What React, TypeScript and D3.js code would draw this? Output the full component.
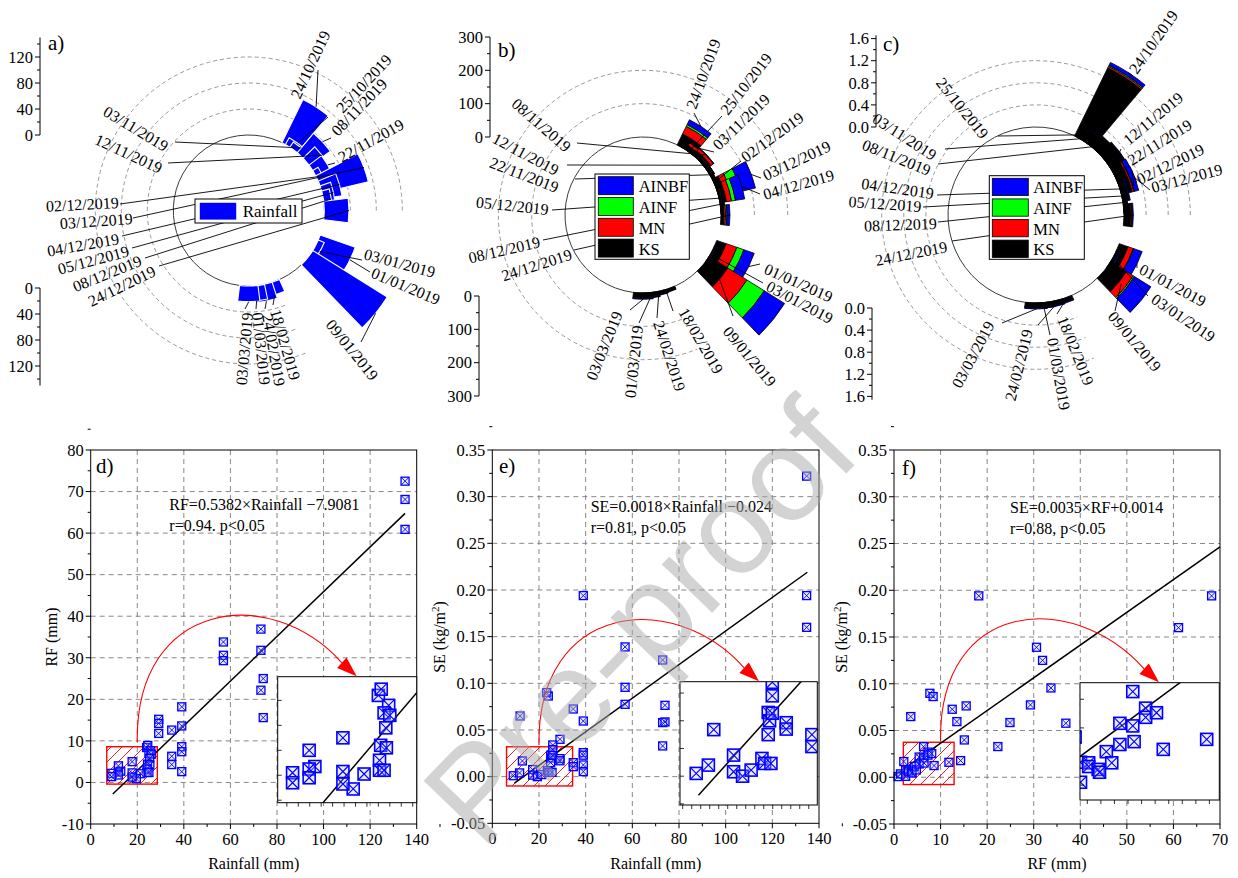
import React from "react";
import * as d3 from "d3";

const SERIF = "'Liberation Serif', 'Times New Roman', Times, serif";
const SANS = "'Liberation Sans', Arial, Helvetica, sans-serif";

// ---------------- erosion events ----------------
const EVENT_DATES = [
  "24/10/2019", "25/10/2019", "03/11/2019", "08/11/2019", "12/11/2019", "22/11/2019",
  "02/12/2019", "03/12/2019", "04/12/2019", "05/12/2019", "08/12/2019", "24/12/2019",
  "01/01/2019", "03/01/2019", "09/01/2019", "18/02/2019", "24/02/2019", "01/03/2019", "03/03/2019",
];

// position of each event on the circular calendar (deg, counter-clockwise from east)
const EVENT_ANGLE_STOPS = [57, 54, 50, 43, 37, 30, 25, 20.5, 16, 12, 8, 0, -26, -30, -39, -73, -79, -85, -90];

const RAINFALL_MM = [74, 12, 9.5, 39, 25, 24, 9.5, 73, 29, 17, 12, 38, 57, 10, 135, 20, 26, 23, 24];

// runoff (mm) per land use
const RF_KS = [37, 4, 15, 18, 10, 6, 6, 20, 20, 6, 5, 9, 30, 3, 66, 6, 8, 10, 12];
const RF_MN = [25, 2, 9, 9, 3, 1, 3, 18, 15, 3, 2, 5, 34, 2, 68, 1, 1, 2, 2];
const RF_AINF = [6, 1, 1, 1, 0.5, 0.5, 1, 30, 12, 2, 2, 4, 22, 2, 61, 1, 1, 2, 2];
const RF_AINBF = [16, 1, 2, 1, 0.5, 0.5, 1, 45, 28, 2, 2, 9, 33, 2, 72, 2, 2, 2, 3];

// soil erosion (kg/m2) per land use
const SE_KS = [1.37, 0.18, 0.22, 0.25, 0.28, 0.12, 0.2, 0.2, 0.1, 0.06, 0.05, 0.12, 0.17, 0.04, 0.34, 0.06, 0.07, 0.07, 0.08];
const SE_MN = [0.03, 0.01, 0.01, 0.01, 0.01, 0.005, 0.03, 0.03, 0.01, 0.005, 0.005, 0.02, 0.1, 0.01, 0.145, 0.005, 0.005, 0.005, 0.005];
const SE_AINF = [0.02, 0.005, 0.005, 0.005, 0.005, 0.005, 0.01, 0.01, 0.005, 0.005, 0.005, 0.01, 0.01, 0.01, 0.025, 0.005, 0.005, 0.005, 0.005];
const SE_AINBF = [0.06, 0.01, 0.01, 0.01, 0.01, 0.005, 0.08, 0.08, 0.02, 0.01, 0.01, 0.02, 0.16, 0.02, 0.35, 0.02, 0.02, 0.02, 0.02];

const LAND_USES = ["AINBF", "AINF", "MN", "KS"];
const LAND_USE_COLOR: Record<string, string> = { AINBF: "#0000ff", AINF: "#00ff00", MN: "#ff0000", KS: "#000000" };

// ---------------- scatter data ----------------
const RAIN_VS_RF: [number, number][] = [
  [135, 72.5], [135, 68.1], [135, 60.9],
  [73.1, 36.9], [73.1, 31.8], [74.1, 25.0], [73.1, 22.2], [74.1, 15.6],
  [57, 33.8], [57, 30.6], [57, 29.3],
  [39.1, 18.2], [39.1, 13.6], [39.1, 8.6], [39.1, 7.4], [39.1, 2.6],
  [34.8, 12.6], [34.8, 6.3], [34.8, 4.3],
  [29.2, 15.2], [29.2, 14.2], [29.2, 11.8],
  [24, 8.4], [24.5, 8.9], [25.8, 7.6], [25, 7.0], [26, 6.8], [25.3, 5.8], [24.4, 4.4], [25.4, 4.2],
  [24.2, 3.2], [24.2, 2.4], [25, 2.4], [21.5, 2.1], [19.6, 0.9], [17.8, 5.0], [17.8, 2.3], [17.8, 1.3],
  [12.9, 2.7], [11.9, 4.0], [11.9, 2.5], [11.9, 1.8], [9, 2.2], [9, 1.4],
];

const RAIN_VS_SE: [number, number][] = [
  [134.7, 0.322], [134.7, 0.194], [134.7, 0.16], [39, 0.194],
  [56.9, 0.139], [56.9, 0.0957], [56.9, 0.0775],
  [73, 0.125], [74, 0.0764], [73, 0.0579], [74, 0.0586], [73, 0.0329],
  [34.7, 0.0725], [39, 0.0596], [39, 0.0257], [39, 0.023], [39, 0.0125], [39, 0.0054], [34.7, 0.015], [34.7, 0.0107],
  [11.9, 0.065], [23.3, 0.09], [24, 0.0864], [29, 0.04], [25.9, 0.0339],
  [9, 0.001], [11.7, 0.004], [12.9, 0.0168], [17.3, 0.0076], [17.3, 0.0016], [19.3, 0], [21.2, 0.0022],
  [23.6, 0.0064], [24.2, 0.0046], [25.6, 0.0046], [25, 0.023], [25.3, 0.02], [25, 0.015],
  [25.9, 0.029], [25.9, 0.0227], [29, 0.0193], [29, 0.017],
];

const RF_VS_SE: [number, number][] = [
  [68.2, 0.194], [61.1, 0.16], [30.6, 0.139], [31.9, 0.125], [33.7, 0.0955], [29.3, 0.0774],
  [24.9, 0.0585], [36.9, 0.0578], [22.3, 0.0328], [18.2, 0.194], [15.5, 0.0763], [12.5, 0.0727],
  [13.5, 0.0595], [15.1, 0.0399], [14.3, 0.0178], [11.8, 0.016], [3.6, 0.0649], [7.7, 0.0898],
  [8.4, 0.0863], [8.6, 0.0125],
  [0.9, 0.0007], [1.4, 0.0036], [2.1, 0.0168], [2.5, 0.008], [2.5, 0.001], [3.1, 0.0078], [3.1, 0.0065],
  [3.8, 0.0055], [3.9, 0.0045], [4.4, 0.0117], [4.8, 0.0078], [5.4, 0.0216], [5.4, 0.0142],
  [6.35, 0.0327], [6.35, 0.0207], [6.45, 0.0152], [7.3, 0.0269], [7.3, 0.0237], [8.1, 0.0253],
];

// ---------------- helpers ----------------
const angleOf = d3.scaleLinear().domain(d3.range(EVENT_DATES.length)).range(EVENT_ANGLE_STOPS);
const arcGen = d3.arc<any>();
const BAR_HALF_DEG = 7;

function wedgePath(rIn: number, rOut: number, deg: number) {
  return arcGen({
    innerRadius: rIn,
    outerRadius: rOut,
    startAngle: ((90 - deg - BAR_HALF_DEG) * Math.PI) / 180,
    endAngle: ((90 - deg + BAR_HALF_DEG) * Math.PI) / 180,
  }) as string;
}

function ringPath(r: number, spanDeg: number) {
  const p = d3.path();
  p.arc(0, 0, r, 0, (-spanDeg * Math.PI) / 180, true);
  return p.toString();
}

function stepTicks(lo: number, hi: number, step: number) {
  const n = Math.round((hi - lo) / step);
  return d3.range(n + 1).map((i) => +(lo + i * step).toFixed(6));
}

// label layout: [x, y, rotation, anchor, leaderX, leaderY, leaderTargetValue?]
type Spot = [number, number, number, "s" | "e", number, number, number?];

const LABELS_A: Spot[] = [
  [300, 100, -65, "s", 318, 70], [343, 114, -47, "s", 328, 117], [164, 152, 31, "e", 175, 142],
  [338, 137, -46, "s", 331, 138], [159, 174, 25, "e", 168, 163], [342, 163, -29, "s", 335, 163],
  [119, 208, -3, "e", 120, 204], [133, 224, -4, "e", 133, 218], [120, 244, -10, "e", 122, 236],
  [130, 256, -15, "e", 132, 248], [143, 265, -22, "e", 145, 258], [157, 275, -26, "e", 159, 266],
  [370, 277, 23, "s", 370, 272], [363, 259, 15, "s", 362, 260], [325, 325, 51, "s", 361, 342],
  [270, 311, 74, "s", 273, 305], [262, 315, 80, "s", 265, 309], [252, 313, 84, "s", 256, 309],
  [253, 313, -85, "e", 245, 309],
];

const LABELS_B: Spot[] = [
  [696, 110, -70, "s", 694, 113], [728, 116, -52, "s", 722, 116], [719, 151, -44, "s", 714, 152],
  [565, 153, 41, "e", 577, 143], [555, 176, 28, "e", 567, 165], [556, 193, 21, "e", 575, 179],
  [746, 163, -36, "s", 741, 161], [766, 181, -25, "s", 761, 178], [765, 200, -16, "s", 760, 194],
  [548, 215, 6, "e", 552, 210], [541, 247, -13, "e", 543, 240], [573, 259, -18, "e", 574, 250],
  [763, 273, 24, "s", 760, 264], [765, 290, 28, "s", 763, 283], [722, 332, 50, "s", 733, 316, 57],
  [678, 312, 60, "s", 673, 311], [653, 323, 72, "s", 657, 318], [643, 326, -84, "e", 639, 323],
  [623, 314, -68, "e", 630, 310],
];

const LABELS_C: Spot[] = [
  [1137, 75, -55, "s", 1133, 76], [981, 140, 51, "e", 998, 136], [932, 161, 33, "e", 945, 149],
  [928, 176, 22, "e", 938, 164], [1129, 146, -40, "s", 1121, 149], [1132, 166, -32, "s", 1125, 168],
  [1140, 185, -26, "s", 1134, 186], [1153, 193, -15, "s", 1150, 190], [933, 199, 8, "e", 937, 195],
  [921, 212, 4, "e", 923, 207], [937, 229, -2, "e", 938, 222], [948, 252, -11, "e", 952, 241],
  [1138, 273, 28, "s", 1137, 268], [1150, 302, 34, "s", 1148, 296], [1107, 317, 50, "s", 1115, 311, 0.39],
  [1057, 319, 68, "s", 1057, 314], [1033, 331, -76, "e", 1038, 325], [1047, 339, 80, "s", 1050, 335],
  [995, 325, -62, "e", 1002, 323],
];

type Layer = { name: string; values: number[]; color: string };

type PolarCfg = {
  cx: number; cy: number; r0: number; k: number; lineMax: number;
  majors: number[]; minors: number[]; fmt: (v: number) => string;
  topX: number; botX: number; botOff: number; rings: number[];
};

type LegendCfg = {
  x: number; y: number; w: number; h: number; rx: number; rw: number; rh: number;
  ry0: number; rdy: number; tx: number; tdy: number; font: number; rectStroke: string;
};

function PolarPanel({ cfg, layers, barStroke, barStrokeWidth, labels, legend, legendItems, tag, tagPos }: {
  cfg: PolarCfg; layers: Layer[]; barStroke: string; barStrokeWidth: number; labels: Spot[];
  legend: LegendCfg; legendItems: { name: string; color: string }[]; tag: string; tagPos: [number, number];
}) {
  const { cx, cy, r0, k, lineMax, majors, minors, fmt, topX, botX, botOff, rings } = cfg;
  const r = d3.scaleLinear().domain([0, lineMax]).range([r0, r0 + lineMax * k]);
  const n = EVENT_DATES.length;
  const totals = d3.range(n).map((i) => d3.sum(layers, (l) => l.values[i]));
  const at = (rad: number, deg: number): [number, number] => [
    cx + rad * Math.cos((deg * Math.PI) / 180),
    cy - rad * Math.sin((deg * Math.PI) / 180),
  ];

  return (
    <g>
      <g transform={`translate(${cx},${cy})`}>
        {rings.map((v) => (
          <path key={v} d={ringPath(r(v), 292)} fill="none" stroke="#8c8c8c" strokeWidth={0.9} strokeDasharray="4 3" />
        ))}
        <path d={ringPath(r0, 315)} fill="none" stroke="#3a3a3a" strokeWidth={1} />
        {d3.range(n).map((i) => {
          let acc = 0;
          return (
            <g key={i}>
              {layers.map((l) => {
                const a = acc;
                acc += l.values[i];
                return (
                  <path key={l.name} d={wedgePath(r(a), r(acc), angleOf(i))} fill={l.color}
                    stroke={barStroke} strokeWidth={barStrokeWidth} />
                );
              })}
            </g>
          );
        })}
      </g>

      {labels.map((s, i) => {
        const target = s[6] !== undefined ? (s[6] as number) : totals[i];
        const [px, py] = at(r(target), angleOf(i));
        return <line key={i} x1={s[4]} y1={s[5]} x2={px} y2={py} stroke="#000" strokeWidth={0.9} />;
      })}
      {labels.map((s, i) => (
        <text key={i} transform={`translate(${s[0]},${s[1]}) rotate(${s[2]})`} textAnchor={s[3] === "s" ? "start" : "end"}
          fontFamily={SERIF} fontSize={16} fill="#000">
          {EVENT_DATES[i]}
        </text>
      ))}

      <rect x={legend.x} y={legend.y} width={legend.w} height={legend.h} fill="#fff" stroke="#000" strokeWidth={1} />
      {legendItems.map((it, j) => (
        <g key={it.name}>
          <rect x={legend.rx} y={legend.ry0 + j * legend.rdy} width={legend.rw} height={legend.rh} fill={it.color}
            stroke={legend.rectStroke} strokeWidth={0.8} />
          <text x={legend.tx} y={legend.ry0 + j * legend.rdy + legend.tdy} fontFamily={SERIF} fontSize={legend.font}>
            {it.name}
          </text>
        </g>
      ))}

      {/* radial axes: upward copy and downward copy */}
      <line x1={topX} x2={topX} y1={cy - r(0)} y2={cy - r(lineMax)} stroke="#000" strokeWidth={1} />
      {majors.map((v) => (
        <g key={"t" + v}>
          <line x1={topX - 5} x2={topX} y1={cy - r(v)} y2={cy - r(v)} stroke="#000" />
          <text x={topX - 7} y={cy - r(v)} dy="0.35em" textAnchor="end" fontFamily={SERIF} fontSize={16.5}>{fmt(v)}</text>
        </g>
      ))}
      {minors.map((v) => (
        <line key={"tm" + v} x1={topX - 3} x2={topX} y1={cy - r(v)} y2={cy - r(v)} stroke="#000" />
      ))}
      <line x1={botX} x2={botX} y1={cy + r(0) + botOff} y2={cy + r(lineMax) + botOff} stroke="#000" strokeWidth={1} />
      {majors.map((v) => (
        <g key={"b" + v}>
          <line x1={botX - 5} x2={botX} y1={cy + r(v) + botOff} y2={cy + r(v) + botOff} stroke="#000" />
          <text x={botX - 7} y={cy + r(v) + botOff} dy="0.35em" textAnchor="end" fontFamily={SERIF} fontSize={16.5}>{fmt(v)}</text>
        </g>
      ))}
      {minors.map((v) => (
        <line key={"bm" + v} x1={botX - 3} x2={botX} y1={cy + r(v) + botOff} y2={cy + r(v) + botOff} stroke="#000" />
      ))}

      <text x={tagPos[0]} y={tagPos[1]} fontFamily={SERIF} fontSize={21}>{tag}</text>
    </g>
  );
}

function Marker({ x, y, s, w }: { x: number; y: number; s: number; w: number }) {
  const h = s / 2;
  return (
    <g>
      <rect x={x - h} y={y - h} width={s} height={s} fill="rgba(190,190,255,0.3)" stroke="#0000ff" strokeWidth={w} />
      <path d={`M${x - h},${y - h}L${x + h},${y + h}M${x - h},${y + h}L${x + h},${y - h}`} stroke="#0000ff" strokeWidth={w * 0.7} />
    </g>
  );
}

type ScatterCfg = {
  id: string;
  box: { x0: number; x1: number; y0: number; y1: number };
  xDom: [number, number]; yDom: [number, number];
  xStep: number; xMinor: number; yStep: number; yMinor: number;
  fmtX: (v: number) => string; fmtY: (v: number) => string;
  pts: [number, number][];
  fit: { a: number; b: number; from: number; to: number };
  zoom: [number, number, number, number];
  inset: { x0: number; y0: number; x1: number; y1: number; xDom: [number, number]; yDom: [number, number] };
  arrowFrom: [number, number];
  eq: [string, string]; eqPos: [number, number];
  xTitle: string; xTitlePos: [number, number];
  yTitle: React.ReactNode; yTitlePos: [number, number];
  tag: string; tagPos: [number, number];
};

function ScatterPanel({ cfg }: { cfg: ScatterCfg }) {
  const { box, xDom, yDom, inset, fit } = cfg;
  const x = d3.scaleLinear().domain(xDom).range([box.x0, box.x1]);
  const y = d3.scaleLinear().domain(yDom).range([box.y1, box.y0]);
  const xt = stepTicks(xDom[0], xDom[1], cfg.xStep);
  const yt = stepTicks(yDom[0], yDom[1], cfg.yStep);
  const xm = stepTicks(xDom[0] + cfg.xMinor, xDom[1], cfg.xStep);
  const ym = stepTicks(yDom[0] + cfg.yMinor, yDom[1], cfg.yStep);
  const inside = (v: number, d: [number, number]) => v > d[0] + 1e-9 && v < d[1] - 1e-9;

  const ix = d3.scaleLinear().domain(inset.xDom).range([inset.x0, inset.x1]);
  const iy = d3.scaleLinear().domain(inset.yDom).range([inset.y1, inset.y0]);
  const line = d3.line();
  const fitPath = (sx: any, sy: any) =>
    line([[sx(fit.from), sy(fit.a * fit.from + fit.b)], [sx(fit.to), sy(fit.a * fit.to + fit.b)]]) as string;

  // curved pointer from the zoom window to the inset
  const sx0 = x(cfg.arrowFrom[0]);
  const sy0 = y(cfg.arrowFrom[1]);
  const tip: [number, number] = [inset.x0 + 79, inset.y0 - 0.5];
  const dir = (42 * Math.PI) / 180;
  const base: [number, number] = [tip[0] - 20 * Math.cos(dir), tip[1] - 20 * Math.sin(dir)];
  const perp: [number, number] = [-Math.sin(dir) * 7, Math.cos(dir) * 7];
  const curve = `M${sx0},${sy0} C${sx0 - 2},${sy0 - 142} ${tip[0] - 86},${tip[1] - 93} ${base[0]},${base[1]}`;

  const [zx0, zx1, zy0, zy1] = cfg.zoom;

  return (
    <g>
      <defs>
        <pattern id={`hatch-${cfg.id}`} patternUnits="userSpaceOnUse" width={11} height={11}>
          <path d="M-1,1 L1,-1 M0,11 L11,0 M10,12 L12,10" stroke="#ff0000" strokeWidth={0.9} />
        </pattern>
        <clipPath id={`inset-${cfg.id}`}>
          <rect x={inset.x0} y={inset.y0} width={inset.x1 - inset.x0} height={inset.y1 - inset.y0} />
        </clipPath>
      </defs>

      {/* grid */}
      {xt.filter((v) => inside(v, xDom)).map((v) => (
        <line key={"gx" + v} x1={x(v)} x2={x(v)} y1={box.y0} y2={box.y1} stroke="#7a7a7a" strokeWidth={0.9} strokeDasharray="5 4" />
      ))}
      {yt.filter((v) => inside(v, yDom)).map((v) => (
        <line key={"gy" + v} x1={box.x0} x2={box.x1} y1={y(v)} y2={y(v)} stroke="#7a7a7a" strokeWidth={0.9} strokeDasharray="5 4" />
      ))}

      {/* zoom window */}
      <rect x={x(zx0)} y={y(zy1)} width={x(zx1) - x(zx0)} height={y(zy0) - y(zy1)} fill={`url(#hatch-${cfg.id})`}
        stroke="#ff0000" strokeWidth={1.4} />

      <path d={fitPath(x, y)} stroke="#000" strokeWidth={1.5} fill="none" />
      {cfg.pts.map((p, i) => (
        <Marker key={i} x={x(p[0])} y={y(p[1])} s={8} w={1.3} />
      ))}

      {/* frame and ticks */}
      <rect x={box.x0} y={box.y0} width={box.x1 - box.x0} height={box.y1 - box.y0} fill="none" stroke="#000" strokeWidth={1} />
      {xt.map((v) => (
        <g key={"xt" + v}>
          <line x1={x(v)} x2={x(v)} y1={box.y1} y2={box.y1 + 5} stroke="#000" />
          <text x={x(v)} y={box.y1 + 21} textAnchor="middle" fontFamily={SERIF} fontSize={16.5}>{cfg.fmtX(v)}</text>
        </g>
      ))}
      {xm.map((v) => (
        <line key={"xm" + v} x1={x(v)} x2={x(v)} y1={box.y1} y2={box.y1 + 3} stroke="#000" />
      ))}
      {yt.map((v) => (
        <g key={"yt" + v}>
          <line x1={box.x0 - 5} x2={box.x0} y1={y(v)} y2={y(v)} stroke="#000" />
          <text x={box.x0 - 7} y={y(v)} dy="0.35em" textAnchor="end" fontFamily={SERIF} fontSize={16.5}>{cfg.fmtY(v)}</text>
        </g>
      ))}
      {ym.map((v) => (
        <line key={"ym" + v} x1={box.x0 - 3} x2={box.x0} y1={y(v)} y2={y(v)} stroke="#000" />
      ))}

      {/* inset */}
      <rect x={inset.x0} y={inset.y0} width={inset.x1 - inset.x0} height={inset.y1 - inset.y0} fill="#fff" />
      <g clipPath={`url(#inset-${cfg.id})`}>
        <path d={fitPath(ix, iy)} stroke="#000" strokeWidth={1.5} fill="none" />
        {cfg.pts.map((p, i) => (
          <Marker key={i} x={ix(p[0])} y={iy(p[1])} s={12} w={1.6} />
        ))}
      </g>
      <rect x={inset.x0} y={inset.y0} width={inset.x1 - inset.x0} height={inset.y1 - inset.y0} fill="none" stroke="#000" strokeWidth={1} />
      {ix.ticks(10).map((v) => (
        <line key={"ix" + v} x1={ix(v)} x2={ix(v)} y1={inset.y1} y2={inset.y1 + 4} stroke="#000" strokeWidth={0.8} />
      ))}
      {iy.ticks(5).map((v) => (
        <line key={"iy" + v} x1={inset.x0} x2={inset.x0 + 4} y1={iy(v)} y2={iy(v)} stroke="#000" strokeWidth={0.8} />
      ))}

      <path d={curve} fill="none" stroke="#ff0000" strokeWidth={1.1} />
      <path d={`M${tip[0]},${tip[1]} L${base[0] + perp[0]},${base[1] + perp[1]} L${base[0] - perp[0]},${base[1] - perp[1]} Z`} fill="#ff0000" />

      <text x={cfg.eqPos[0]} y={cfg.eqPos[1]} fontFamily={SERIF} fontSize={16}>{cfg.eq[0]}</text>
      <text x={cfg.eqPos[0]} y={cfg.eqPos[1] + 21} fontFamily={SERIF} fontSize={16}>{cfg.eq[1]}</text>

      <text x={cfg.xTitlePos[0]} y={cfg.xTitlePos[1]} textAnchor="middle" fontFamily={SERIF} fontSize={16}>{cfg.xTitle}</text>
      <text transform={`translate(${cfg.yTitlePos[0]},${cfg.yTitlePos[1]}) rotate(-90)`} textAnchor="middle" fontFamily={SERIF} fontSize={16}>
        {cfg.yTitle}
      </text>
      <text x={cfg.tagPos[0]} y={cfg.tagPos[1]} fontFamily={SERIF} fontSize={21}>{cfg.tag}</text>
    </g>
  );
}

const SE_TITLE = (
  <>
    SE (kg/m<tspan dy={-6} fontSize={11}>2</tspan><tspan dy={6}>)</tspan>
  </>
);

const fmtInt = (v: number) => String(v);
const fmt2 = (v: number) => v.toFixed(2);

export default function App() {
  const rainfallLayers: Layer[] = [{ name: "Rainfall", values: RAINFALL_MM, color: "#0000ff" }];
  const rfLayers: Layer[] = [
    { name: "KS", values: RF_KS, color: LAND_USE_COLOR.KS },
    { name: "MN", values: RF_MN, color: LAND_USE_COLOR.MN },
    { name: "AINF", values: RF_AINF, color: LAND_USE_COLOR.AINF },
    { name: "AINBF", values: RF_AINBF, color: LAND_USE_COLOR.AINBF },
  ];
  const seLayers: Layer[] = [
    { name: "KS", values: SE_KS, color: LAND_USE_COLOR.KS },
    { name: "MN", values: SE_MN, color: LAND_USE_COLOR.MN },
    { name: "AINF", values: SE_AINF, color: LAND_USE_COLOR.AINF },
    { name: "AINBF", values: SE_AINBF, color: LAND_USE_COLOR.AINBF },
  ];
  const landUseLegend = LAND_USES.map((u) => ({ name: u, color: LAND_USE_COLOR[u] }));

  const cfgA: PolarCfg = {
    cx: 248.8, cy: 210.5, r0: 75.5, k: 0.65, lineMax: 150,
    majors: d3.range(0, 121, 40), minors: d3.range(20, 150, 40), fmt: fmtInt,
    topX: 40, botX: 40, botOff: 2, rings: [40, 80, 120],
  };
  const cfgB: PolarCfg = {
    cx: 643, cy: 215, r0: 78, k: 1 / 3, lineMax: 300,
    majors: d3.range(0, 301, 100), minors: d3.range(50, 300, 100), fmt: fmtInt,
    topX: 490, botX: 479, botOff: 3, rings: [100, 200],
  };
  const cfgC: PolarCfg = {
    cx: 1036, cy: 215, r0: 88, k: 55.25, lineMax: 1.66,
    majors: [0, 0.4, 0.8, 1.2, 1.6], minors: [0.2, 0.6, 1.0, 1.4], fmt: d3.format(".1f"),
    topX: 876, botX: 872, botOff: 5, rings: [0.4, 0.8, 1.2],
  };

  const scD: ScatterCfg = {
    id: "d", box: { x0: 90.7, x1: 416.7, y0: 450, y1: 824 }, xDom: [0, 140], yDom: [-10, 80],
    xStep: 20, xMinor: 10, yStep: 10, yMinor: 5, fmtX: fmtInt, fmtY: fmtInt, pts: RAIN_VS_RF,
    fit: { a: 0.5382, b: -7.9081, from: 9.5, to: 135 }, zoom: [6.9, 28.6, -0.4, 8.6],
    inset: { x0: 277.7, y0: 676.7, x1: 416.7, y1: 802.7, xDom: [6.4, 30.7], yDom: [-0.2, 9.9] },
    arrowFrom: [20, 9.8], eq: ["RF=0.5382×Rainfall −7.9081", "r=0.94. p<0.05"], eqPos: [169.3, 510],
    xTitle: "Rainfall (mm)", xTitlePos: [253.7, 869], yTitle: "RF (mm)", yTitlePos: [57, 637],
    tag: "d)", tagPos: [96, 473],
  };
  const scE: ScatterCfg = {
    id: "e", box: { x0: 492.3, x1: 819, y0: 450, y1: 823.3 }, xDom: [0, 140], yDom: [-0.05, 0.35],
    xStep: 20, xMinor: 10, yStep: 0.05, yMinor: 0.025, fmtX: fmtInt, fmtY: fmt2, pts: RAIN_VS_SE,
    fit: { a: 0.0018, b: -0.024, from: 9.5, to: 135 }, zoom: [6.1, 34.4, -0.01, 0.032],
    inset: { x0: 680, y0: 681.7, x1: 817.3, y1: 805, xDom: [5.4, 35.9], yDom: [-0.0104, 0.0341] },
    arrowFrom: [20, 0.034], eq: ["SE=0.0018×Rainfall −0.024", "r=0.81, p<0.05"], eqPos: [590.7, 511.7],
    xTitle: "Rainfall (mm)", xTitlePos: [655.8, 869], yTitle: SE_TITLE, yTitlePos: [445, 637],
    tag: "e)", tagPos: [499, 473],
  };
  const scF: ScatterCfg = {
    id: "f", box: { x0: 894, x1: 1220, y0: 450, y1: 824 }, xDom: [0, 70], yDom: [-0.05, 0.35],
    xStep: 10, xMinor: 5, yStep: 0.05, yMinor: 0.025, fmtX: fmtInt, fmtY: fmt2, pts: RF_VS_SE,
    fit: { a: 0.0035, b: 0.0014, from: 0, to: 70 }, zoom: [2, 12.9, -0.0078, 0.0374],
    inset: { x0: 1080, y0: 682.7, x1: 1219.3, y1: 800, xDom: [2.46, 12.73], yDom: [-0.0052, 0.0358] },
    arrowFrom: [10, 0.039], eq: ["SE=0.0035×RF+0.0014", "r=0.88, p<0.05"], eqPos: [1010, 512.7],
    xTitle: "RF (mm)", xTitlePos: [1057, 869], yTitle: SE_TITLE, yTitlePos: [847, 637],
    tag: "f)", tagPos: [902, 475],
  };

  return (
    <svg width={1238} height={878} viewBox="0 0 1238 878"
      style={{ position: "absolute", left: 0, top: 0, display: "block", background: "#fff" }}>
      <rect width={1238} height={878} fill="#fff" />
      <PolarPanel cfg={cfgA} layers={rainfallLayers} barStroke="#ffffff" barStrokeWidth={1.1} labels={LABELS_A}
        legend={{ x: 195, y: 199, w: 107, h: 24, rx: 199.3, rw: 37.4, rh: 17.7, ry0: 202.3, rdy: 0, tx: 242.7, tdy: 14.6, font: 17, rectStroke: "#ffffff" }}
        legendItems={[{ name: "Rainfall", color: "#0000ff" }]} tag="a)" tagPos={[48, 50]} />
      <PolarPanel cfg={cfgB} layers={rfLayers} barStroke="#000" barStrokeWidth={0.8} labels={LABELS_B}
        legend={{ x: 595, y: 174, w: 94.3, h: 85.3, rx: 598.3, rw: 35, rh: 18, ry0: 176.7, rdy: 20.8, tx: 638.7, tdy: 15.5, font: 16.5, rectStroke: "#000" }}
        legendItems={landUseLegend} tag="b)" tagPos={[498, 57]} />
      <PolarPanel cfg={cfgC} layers={seLayers} barStroke="#000" barStrokeWidth={0.8} labels={LABELS_C}
        legend={{ x: 989.3, y: 175.7, w: 95, h: 83.6, rx: 992.3, rw: 36, rh: 17.3, ry0: 178.3, rdy: 20.6, tx: 1033.3, tdy: 15, font: 16.5, rectStroke: "#000" }}
        legendItems={landUseLegend} tag="c)" tagPos={[883, 51]} />
      <ScatterPanel cfg={scD} />
      <ScatterPanel cfg={scE} />
      <ScatterPanel cfg={scF} />
      <text x={640} y={622} transform="rotate(-46 640 622)" textAnchor="middle" dominantBaseline="central"
        fontFamily={SANS} fontSize={132} fill="#a8a8a8" opacity={0.5}>
        Pre-proof
      </text>
    </svg>
  );
}
